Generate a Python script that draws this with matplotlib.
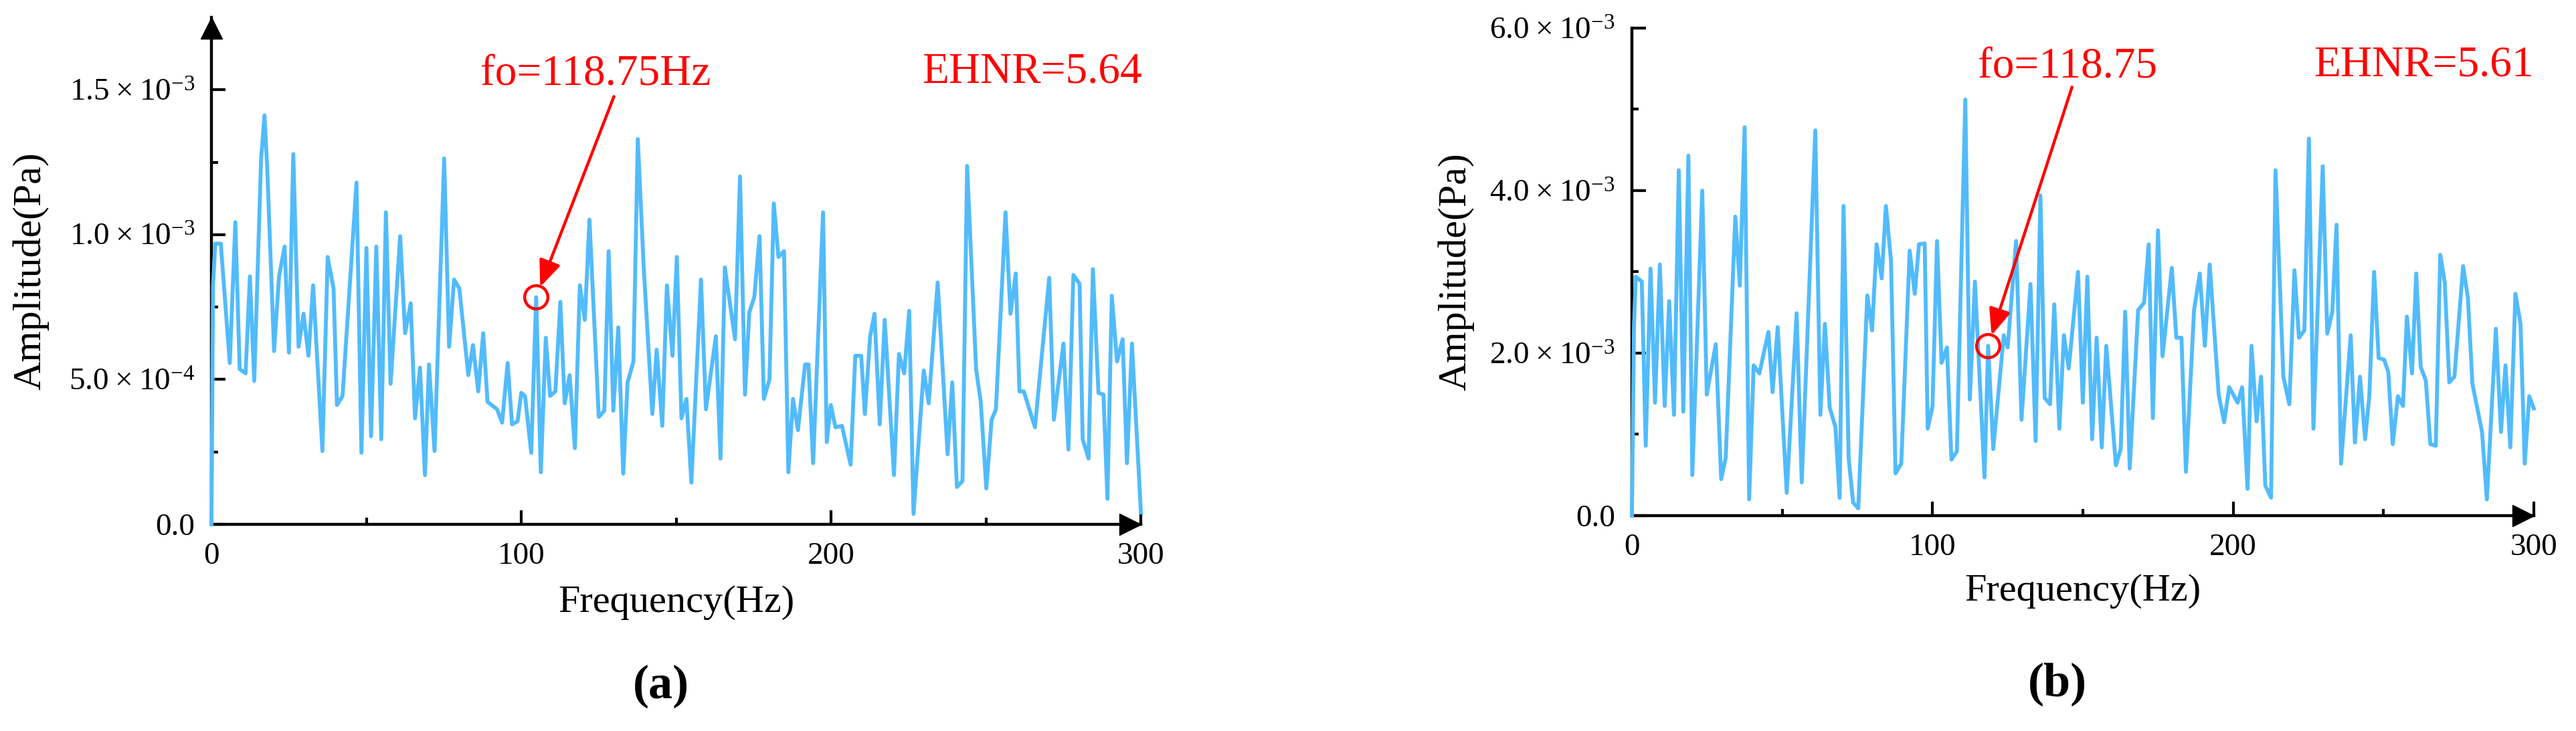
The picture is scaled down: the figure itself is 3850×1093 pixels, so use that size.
import numpy as np
import matplotlib
matplotlib.use('Agg')
import matplotlib.pyplot as plt

plt.rcParams['font.family'] = ['Liberation Serif', 'DejaVu Serif']
plt.rcParams['mathtext.fontset'] = 'custom'
plt.rcParams['mathtext.rm'] = 'Liberation Serif'
plt.rcParams['mathtext.default'] = 'regular'

# (a) spectrum: frequency [Hz], amplitude [x1e-4 Pa]
freq_a = [0, 0.5, 1.2, 3.0, 5.9, 7.7, 9.1, 11.0, 12.4, 13.8, 16.0, 17.1, 18.0, 20.2, 21.8,
          23.6, 25.0, 26.4, 28.1, 29.7, 31.3, 32.8, 35.8, 37.5, 39.4, 40.5, 42.3, 46.8, 48.4,
          50.0, 51.5, 53.2, 54.8, 56.3, 57.8, 60.9, 62.5, 64.3, 65.7, 67.3, 68.9, 70.2, 72.0,
          75.1, 76.7, 78.3, 80.0, 82.9, 84.4, 86.1, 87.7, 89.1, 92.2, 93.8, 95.6, 97.0, 98.8,
          100.0, 101.2, 103.2, 104.8, 106.3, 107.9, 109.3, 111.0, 112.6, 114.0, 115.6, 117.3,
          118.9, 120.5, 122.0, 125.0, 126.8, 128.2, 129.7, 131.3, 132.9, 134.3, 136.2, 137.6,
          139.5, 142.3, 143.7, 145.5, 147.0, 148.8, 150.2, 151.7, 153.3, 154.9, 158.0, 159.6,
          162.8, 164.3, 165.7, 169.0, 170.6, 172.2, 173.6, 175.2, 176.9, 178.3, 180.1, 181.5,
          183.0, 184.8, 186.2, 187.7, 189.3, 191.6, 192.7, 194.2, 197.4, 198.6, 199.9, 201.4,
          203.5, 206.3, 207.8, 209.7, 210.9, 212.6, 214.0, 215.7, 217.3, 220.3, 221.9, 223.6,
          225.2, 226.6, 229.9, 231.5, 234.4, 237.6, 239.1, 240.6, 242.4, 243.9, 246.8, 248.3,
          250.1, 251.8, 253.2, 256.3, 257.9, 259.6, 260.8, 262.2, 265.8, 270.4, 271.9, 275.0,
          276.6, 278.2, 280.2, 281.2, 283.1, 284.5, 286.3, 287.9, 289.2, 290.6, 292.3, 294.1,
          295.5, 297.1, 300.0]
amp_a = [0, 8.25, 9.69, 9.69, 5.57, 10.43, 5.36, 5.21, 8.56, 4.95, 12.58, 14.12, 12.27, 5.98, 8.56,
         9.59, 5.93, 12.78, 6.13, 7.27, 5.82, 8.25, 2.53, 9.23, 8.14, 4.12, 4.43, 11.80, 2.47,
         9.54, 3.04, 9.59, 2.94, 10.77, 4.85, 9.95, 6.60, 7.63, 3.66, 5.41, 1.70, 5.52, 2.53,
         12.63, 6.13, 8.45, 8.14, 5.15, 6.19, 4.59, 6.60, 4.23, 3.97, 3.51, 5.57, 3.45, 3.56,
         4.54, 4.43, 2.47, 7.84, 1.80, 6.44, 4.43, 4.59, 7.68, 4.18, 5.15, 2.63,
         8.25, 7.06, 10.52, 3.71, 3.92, 9.43, 3.92, 6.80, 1.75, 4.90, 5.62, 13.30,
         8.90, 3.81, 6.03, 3.40, 8.25, 5.82, 9.23, 3.66, 4.33, 1.44, 8.45, 3.97,
         6.49, 2.27, 8.87, 6.39, 12.01, 4.48, 7.32, 7.84, 9.95, 4.33, 5.00, 11.08,
         9.23, 9.43, 1.80, 4.33, 3.25, 5.52, 5.52, 2.11, 10.77, 2.84, 4.12, 3.35,
         3.40, 2.06, 5.82, 5.82, 3.81, 6.49, 7.27, 3.45, 7.06, 1.70, 5.88, 5.21,
         7.37, 0.36, 5.31, 4.18, 8.35, 2.42, 4.90, 1.29, 1.49, 12.37, 5.36, 4.23,
         1.24, 3.61, 3.97, 10.77, 7.27, 8.66, 4.59, 4.59, 3.35, 8.51, 3.61, 6.24,
         2.58, 8.61, 8.30, 2.94, 2.27, 8.81, 4.54, 4.48, 0.88, 7.89, 5.62, 6.39,
         2.11, 6.24, 0.41]

# (b) spectrum: frequency [Hz], amplitude [x1e-3 Pa]
freq_b = [0, 0.7, 1.3, 3.3, 4.6, 6.2, 7.7, 9.3, 10.9, 12.4, 14.0, 15.6, 17.1, 18.8, 20.1,
          23.4, 24.9, 27.9, 29.7, 31.2, 34.4, 35.9, 37.5, 39.0, 40.5, 42.4, 45.4, 46.8, 48.5,
          51.5, 54.8, 56.5, 61.0, 62.7, 64.2, 65.8, 67.7, 69.1, 70.4, 72.1, 73.6, 75.3, 78.3,
          79.9, 81.4, 83.1, 84.5, 86.2, 87.7, 89.6, 92.4, 94.1, 95.5, 97.4, 98.4, 100.0,
          101.5, 103.0, 104.8, 106.3, 108.1, 110.9, 112.4, 114.1, 117.3, 118.5, 120.2, 123.7,
          125.0, 127.8, 129.6, 132.6, 134.3, 135.9, 137.3, 139.1, 140.5, 142.2, 143.7, 145.3,
          148.4, 150.0, 151.5, 153.1, 154.6, 156.3, 157.8, 161.0, 162.6, 164.1, 165.6, 168.4,
          170.4, 171.9, 173.3, 175.0, 176.5, 179.6, 181.1, 182.8, 184.3, 187.0, 188.9, 190.6,
          192.2, 195.2, 197.0, 198.7, 201.5, 203.0, 204.8, 206.1, 207.8, 209.3, 210.7, 212.6,
          214.1, 216.7, 218.7, 220.4, 221.9, 223.7, 225.2, 226.7, 229.8, 231.3, 233.0, 234.4,
          235.9, 239.1, 240.5, 242.2, 243.9, 245.3, 246.9, 248.4, 250.2, 251.6, 253.1, 254.8,
          256.5, 257.8, 259.5, 260.9, 262.4, 264.1, 265.6, 267.4, 268.9, 270.4, 271.9, 273.6,
          276.5, 278.1, 279.6, 282.8, 284.4, 287.4, 289.1, 290.6, 292.2, 293.9, 295.6, 297.0,
          298.5, 300.0]
amp_b = [0, 2.34, 2.94, 2.88, 0.86, 3.04, 1.39, 3.09, 1.35, 2.64, 1.24, 4.25, 1.28, 4.43, 0.50,
         4.00, 1.49, 2.11, 0.45, 0.71, 3.68, 2.83, 4.78, 0.20, 1.85, 1.75, 2.26, 1.52, 2.32,
         0.28, 2.49, 0.41, 4.74, 1.24, 2.36, 1.33, 1.09, 0.22, 3.81, 0.71, 0.16, 0.09, 2.71,
         2.28, 3.34, 2.92, 3.81, 3.13, 0.52, 0.64, 3.26, 2.73, 3.34, 3.35, 1.07, 1.35,
         3.38, 1.88, 2.07, 0.69, 0.79, 5.12, 1.43, 2.88, 0.47, 2.09, 0.82, 2.22,
         2.07, 3.38, 1.18, 2.85, 0.92, 3.94, 1.45, 1.37, 2.60, 1.07, 2.22, 1.81,
         3.00, 1.39, 2.94, 0.94, 2.19, 0.84, 2.09, 0.62, 0.82, 2.51, 0.58, 2.53,
         2.62, 3.34, 1.20, 3.51, 1.96, 3.05, 2.19, 2.19, 0.54, 2.53, 2.98, 2.09,
         3.09, 1.49, 1.15, 1.58, 1.39, 1.58, 0.33, 2.09, 1.16, 1.71, 0.37, 0.22,
         4.25, 1.71, 1.37, 3.02, 2.19, 2.28, 4.64, 1.07, 4.30, 2.24, 2.51, 3.58,
         0.64, 2.22, 0.90, 1.71, 0.94, 1.47, 3.00, 1.94, 1.92, 1.77, 0.88, 1.47,
         1.35, 2.45, 1.75, 2.98, 1.83, 1.66, 0.88, 0.86, 3.21, 2.87, 1.64, 1.71,
         3.07, 2.68, 1.62, 1.03, 0.20, 2.30, 1.03, 1.85, 0.84, 2.73, 2.36, 0.64,
         1.47, 1.32]

# marked fundamental points
fo_a = (104.8, 7.84e-4)
fo_b = (118.5, 2.09e-3)

yticks_a = [0, 5e-4, 1e-3, 1.5e-3]
ylabels_a = ['0.0', r'$5.0\times10^{-4}$', r'$1.0\times10^{-3}$', r'$1.5\times10^{-3}$']
yticks_b = [0, 2e-3, 4e-3, 6e-3]
ylabels_b = ['0.0', r'$2.0\times10^{-3}$', r'$4.0\times10^{-3}$', r'$6.0\times10^{-3}$']
xticks = [0, 100, 200, 300]

line_c = '#52BBFC'

fig = plt.figure(figsize=(38.5, 10.93), dpi=100)
ax1 = fig.add_axes([0.0821, 0.2827, 0.3608, 0.6935])
ax2 = fig.add_axes([0.6335, 0.2946, 0.3501, 0.6670])

panels = [
    (ax1, freq_a, np.array(amp_a) * 1e-4, 1.75e-3, yticks_a, ylabels_a, fo_a,
     'fo=118.75Hz', (0.413, 0.887), (0.433, 0.844), 'EHNR=5.64', (0.883, 0.892), True),
    (ax2, freq_b, np.array(amp_b) * 1e-3, 6e-3, yticks_b, ylabels_b, fo_b,
     'fo=118.75', (0.483, 0.920), (0.488, 0.879), 'EHNR=5.61', (0.878, 0.923), False),
]

for ax, f, a, ytop, yt, yl, fo, fo_txt, fo_pos, arr_tail, eh_txt, eh_pos, yarrow in panels:
    ax.plot(f, a, color=line_c, lw=4.2, clip_on=False, zorder=3)
    ax.set_xlim(0, 300)
    ax.set_ylim(0, ytop)
    for s in ['top', 'right']:
        ax.spines[s].set_visible(False)
    for s in ['left', 'bottom']:
        ax.spines[s].set_linewidth(3.2)
    ax.set_xticks(xticks)
    ax.set_xticks([50, 150, 250], minor=True)
    ax.set_yticks(yt)
    ax.set_yticklabels(yl)
    ax.set_yticks([(yt[i] + yt[i + 1]) / 2 for i in range(len(yt) - 1)], minor=True)
    ax.tick_params(which='both', direction='in', width=3, labelsize=34)
    ax.tick_params(which='major', length=15)
    ax.tick_params(which='minor', length=7.5)
    ax.tick_params(axis='x', pad=19)
    ax.tick_params(axis='y', pad=18)
    ax.set_xlabel('Frequency(Hz)', fontsize=42)
    ax.set_ylabel('Amplitude(Pa)', fontsize=43)
    ax.xaxis.set_label_coords(0.5, -0.12)
    ax.yaxis.set_label_coords(-0.175, 0.5)

    # axis arrows
    ax.plot(0.9885, 0, marker='>', color='k', ms=23, transform=ax.transAxes, clip_on=False, zorder=5)
    if yarrow:
        ax.plot(0, 0.979, marker='^', color='k', ms=23, transform=ax.transAxes, clip_on=False, zorder=5)

    # fundamental marker and annotations
    ax.plot(fo[0], fo[1], 'o', ms=25, mfc='none', mec='red', mew=3.2, zorder=4)
    ax.annotate('', xy=fo, xycoords='data', xytext=arr_tail, textcoords='axes fraction',
                arrowprops=dict(arrowstyle='-|>,head_length=0.6,head_width=0.25', color='red',
                                lw=3.2, mutation_scale=40, shrinkA=0, shrinkB=12), zorder=4)
    ax.text(fo_pos[0], fo_pos[1], fo_txt, color='red', fontsize=47, ha='center', va='center',
            transform=ax.transAxes)
    ax.text(eh_pos[0], eh_pos[1], eh_txt, color='red', fontsize=47, ha='center', va='center',
            transform=ax.transAxes)

fig.text(0.2565, 0.0613, '(a)', fontsize=52, fontweight='bold', ha='center', va='center')
fig.text(0.7987, 0.0641, '(b)', fontsize=52, fontweight='bold', ha='center', va='center')

fig.savefig('out.png', dpi=100)
